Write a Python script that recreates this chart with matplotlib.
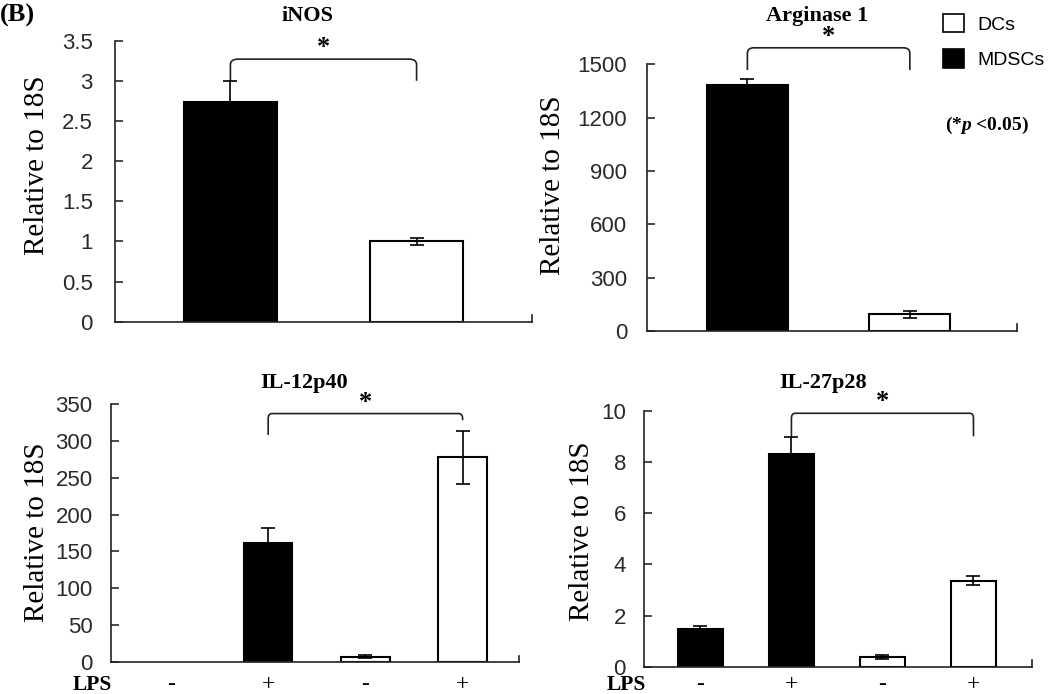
import numpy as np
import matplotlib
matplotlib.use("Agg")
import matplotlib.pyplot as plt
import matplotlib.transforms as mtransforms
from matplotlib.path import Path
from matplotlib.patches import PathPatch, Patch

plt.rcParams["font.family"] = ["Liberation Sans", "DejaVu Sans"]
plt.rcParams["mathtext.fontset"] = "custom"
plt.rcParams["mathtext.it"] = "Liberation Serif:italic:bold"
plt.rcParams["mathtext.rm"] = "Liberation Serif:bold"

SERIF = ["Liberation Serif", "DejaVu Serif"]

# ---- data ----
inos_vals = [2.73, 1.00]
inos_errs = [0.27, 0.04]
inos_colors = ["black", "white"]

arg1_vals = [1385, 95]
arg1_errs = [30, 20]
arg1_colors = ["black", "white"]

il12_vals = [0.0, 161, 7, 278]
il12_errs = [0.0, 21, 2, 36]
il27_vals = [1.48, 8.31, 0.37, 3.36]
il27_errs = [0.12, 0.65, 0.08, 0.17]
lps_colors = ["black", "black", "white", "white"]
lps_labels = ["-", "+", "-", "+"]

# bracket: (left bar, right bar, top, left leg end, right leg end)
inos_bracket = (0, 1, 3.27, 3.0, 3.0)
arg1_bracket = (0, 1, 1593, 1468, 1468)
il12_bracket = (1, 3, 337, 308, 328)
il27_bracket = (1, 3, 9.9, 9.0, 9.0)

fig = plt.figure(figsize=(10.5, 6.94), dpi=100)


def bracket(ax, x0, x1, ytop, yl, yr, r):
    dx = 0.04
    verts = [(x0, yl), (x0, ytop - r), (x0, ytop), (x0 + dx, ytop),
             (x1 - dx, ytop), (x1, ytop), (x1, ytop - r), (x1, yr)]
    codes = [Path.MOVETO, Path.LINETO, Path.CURVE3, Path.CURVE3,
             Path.LINETO, Path.CURVE3, Path.CURVE3, Path.LINETO]
    ax.add_patch(PathPatch(Path(verts, codes), fill=False, lw=1.2,
                           edgecolor="#222222", clip_on=False))
    ax.text((x0 + x1) / 2, ytop, "*", ha="center", va="bottom",
            fontsize=19, fontweight="bold", family=SERIF)


def panel(rect, vals, errs, colors, yticks, yticklabels, br, xmax, pad):
    ax = fig.add_axes(rect)
    vals = np.asarray(vals, float)
    errs = np.asarray(errs, float)
    x = np.arange(len(vals)) + 0.62
    shown = vals > 0
    ax.bar(x[shown], vals[shown], width=0.5,
           color=[c for c, s in zip(colors, shown) if s],
           edgecolor="black", lw=1.5, zorder=2)
    ax.errorbar(x[shown], vals[shown], yerr=errs[shown], fmt="none",
                ecolor="black", elinewidth=1.2, capsize=5, capthick=1.2,
                zorder=3)
    ax.set_xlim(0, xmax)
    ax.set_ylim(yticks[0], yticks[-1])
    ax.set_yticks(yticks)
    ax.set_yticklabels(yticklabels)
    ax.set_xticks([])
    for s in ["top", "right"]:
        ax.spines[s].set_visible(False)
    for s in ["left", "bottom"]:
        ax.spines[s].set_linewidth(1.2)
        ax.spines[s].set_color("#222222")
    ax.tick_params(axis="y", direction="in", length=6, width=1.2,
                   labelsize=16, pad=pad, colors="#2a2a2a")
    ax.plot([xmax, xmax], [0, yticks[-1] * 0.025], color="#222222", lw=1.2,
            clip_on=False)
    span = yticks[-1] - yticks[0]
    bracket(ax, x[br[0]], x[br[1]], br[2], br[3], br[4], span * 0.02)
    return ax, x


ax1, _ = panel([0.1095, 0.5365, 0.3972, 0.4049], inos_vals, inos_errs,
               inos_colors, np.arange(0, 3.51, 0.5),
               ["0", "0.5", "1", "1.5", "2", "2.5", "3", "3.5"],
               inos_bracket, 2.24, 16)
ax2, _ = panel([0.6159, 0.523, 0.3527, 0.3843], arg1_vals, arg1_errs,
               arg1_colors, np.arange(0, 1501, 300),
               [str(v) for v in range(0, 1501, 300)],
               arg1_bracket, 2.28, 14)
ax3, x3 = panel([0.1054, 0.0461, 0.3889, 0.3718], il12_vals, il12_errs,
                lps_colors, np.arange(0, 351, 50),
                [str(v) for v in range(0, 351, 50)],
                il12_bracket, 4.2, 13)
ax4, x4 = panel([0.6133, 0.0393, 0.3693, 0.3689], il27_vals, il27_errs,
                lps_colors, np.arange(0, 11, 2),
                [str(v) for v in range(0, 11, 2)],
                il27_bracket, 4.26, 13)

# LPS row
y_lps = 1 - 690 / 694
for ax, xs in [(ax3, x3), (ax4, x4)]:
    tr = mtransforms.blended_transform_factory(ax.transData, fig.transFigure)
    for xi, lab in zip(xs, lps_labels):
        ax.text(xi, y_lps, lab, transform=tr, ha="center", va="baseline",
                fontsize=17, family=SERIF)
fig.text(92 / 1050, y_lps, "LPS", ha="center", va="baseline",
         fontsize=15.5, fontweight="bold", family=SERIF)
fig.text(626 / 1050, y_lps, "LPS", ha="center", va="baseline",
         fontsize=15.5, fontweight="bold", family=SERIF)

# titles
for xp, yp, t in [(0.293, 0.977, "iNOS"), (0.778, 0.977, "Arginase 1"),
                  (0.290, 0.448, "IL-12p40"), (0.784, 0.448, "IL-27p28")]:
    fig.text(xp, yp, t, ha="center", va="center", fontsize=16,
             fontweight="bold", family=SERIF)

# y labels
for xp, yp in [(37, 165), (553, 185), (37, 532), (582, 531)]:
    fig.text(xp / 1050, 1 - yp / 694, "Relative to 18S", rotation=90,
             ha="center", va="center", fontsize=21, family=SERIF)

fig.text(0.0, 0.978, "(B)", ha="left", va="center", fontsize=19,
         fontweight="bold", family=SERIF)

# legend
handles = [Patch(facecolor="white", edgecolor="black", lw=1.2, label="DCs"),
           Patch(facecolor="black", edgecolor="black", lw=1.2, label="MDSCs")]
fig.legend(handles=handles, loc="upper left",
           bbox_to_anchor=(0.885, 1.0), frameon=False, fontsize=14,
           handlelength=1.1, handleheight=1.1, labelspacing=0.8,
           handletextpad=0.7, borderpad=0.2)
fig.text(0.98, 1 - 125 / 694, "(*$p$ <0.05)", ha="right", va="center",
         fontsize=14, fontweight="bold", family=SERIF)

fig.savefig("out.png", dpi=100)
